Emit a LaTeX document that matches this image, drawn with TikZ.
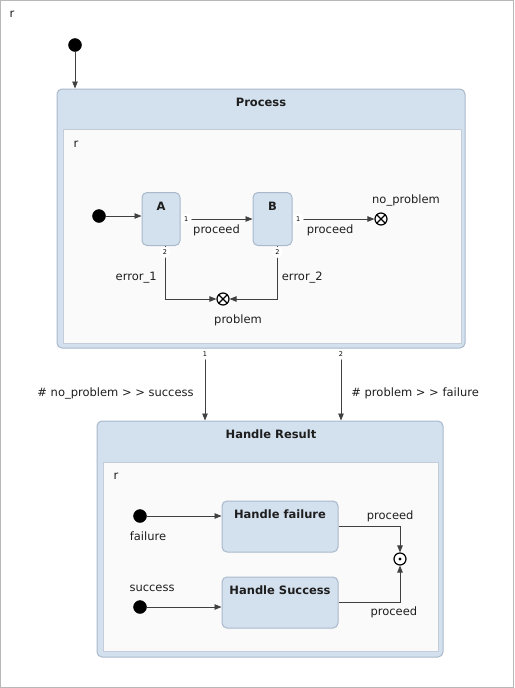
\documentclass[tikz,border=0pt]{standalone}
\usepackage{fontspec}
\setmainfont{DejaVu Sans}
\usetikzlibrary{arrows.meta}
\definecolor{statefill}{HTML}{D3E0EE}
\definecolor{stateline}{HTML}{A9B9CB}
\definecolor{regionfill}{HTML}{FAFAFA}
\definecolor{regionline}{HTML}{C3CCD8}
\definecolor{ink}{HTML}{1E1E1E}
\definecolor{frameline}{HTML}{B8B8B8}
\tikzset{
    state/.style={draw=stateline, fill=statefill, rounded corners=5pt, line width=1pt, inner sep=0pt},
    region/.style={draw=regionline, fill=regionfill, line width=1pt, inner sep=0pt},
    initial/.style={circle, fill=black, draw=black, minimum size=13pt, inner sep=0pt},
    exitpt/.style={circle, draw=black, fill=white, line width=1.2pt, minimum size=12pt, inner sep=0pt,
        path picture={\draw[black, line width=1.2pt] (path picture bounding box.north west) -- (path picture bounding box.south east)
            (path picture bounding box.north east) -- (path picture bounding box.south west);}},
    final/.style={circle, draw=black, fill=white, line width=1.2pt, minimum size=12pt, inner sep=0pt,
        path picture={\fill[black] (path picture bounding box.center) circle (1.7pt);}},
    trans/.style={draw=ink!85, line width=0.8pt, -{Triangle[length=7pt,width=5.5pt]}},
    prio/.style={circle, fill=white, inner sep=1.6pt, font=\fontsize{6.5}{6.5}\selectfont, text=black},
    lbl/.style={text=ink, font=\fontsize{11.5}{13}\selectfont, inner sep=0pt},
    title/.style={text=ink, font=\fontsize{11.5}{13}\selectfont\bfseries, inner sep=0pt},
}
\begin{document}
\begin{tikzpicture}[x=1pt, y=-1pt]
    \useasboundingbox (0,0) rectangle (514,688);
    \draw[frameline, fill=white] (0.5,0.5) rectangle (513.5,687.5);
    \node[lbl] (rtop) at (12,14) {r};
    \node[initial] (init0) at (75,45) {};
    % Process
    \node[state, minimum width=408pt, minimum height=259pt] (proc) at (261,218.5) {};
    \node[title] (proctitle) at (261,102) {Process};
    \node[region, minimum width=398pt, minimum height=214pt] (procreg) at (262,236) {};
    \node[lbl] (rproc) at (76,144) {r};
    \node[initial] (init1) at (99,216) {};
    \node[state, minimum width=38pt, minimum height=53pt] (A) at (161,219) {};
    \node[title] (Atitle) at (161,206) {A};
    \node[state, minimum width=39pt, minimum height=53pt] (B) at (272.5,219) {};
    \node[title] (Btitle) at (272.5,206) {B};
    \node[exitpt] (noprob) at (381,219) {};
    \node[lbl] (noproblbl) at (406,200) {no\_problem};
    \node[exitpt] (prob) at (223,299) {};
    \node[lbl] (problbl) at (238,320) {problem};
    \draw[trans] (init0) -- (init0 |- proc.north);
    \draw[trans] (init1) -- (init1 -| A.west);
    \draw[trans] (A.east) -- node[prio, pos=0.08] {1} node[lbl, midway, below=5pt] {proceed} (B.west);
    \draw[trans] (B.east) -- node[prio, pos=0.07] {1} node[lbl, pos=0.46, below=5pt] {proceed} (noprob.west);
    \draw[trans] ([xshift=4pt]A.south) |- node[prio, pos=0.06] {2} node[lbl, pos=0.3, left=8pt] {error\_1} (prob);
    \draw[trans] ([xshift=5pt]B.south) |- node[prio, pos=0.06] {2} node[lbl, pos=0.3, right=4pt] {error\_2} (prob);
    % Handle Result
    \node[state, minimum width=346pt, minimum height=236pt] (hr) at (270,539) {};
    \node[title] (hrtitle) at (271,434) {Handle Result};
    \node[region, minimum width=335pt, minimum height=189pt] (hrreg) at (270.5,556.5) {};
    \node[lbl] (rhr) at (116,476) {r};
    \node[initial] (initf) at (140,516) {};
    \node[lbl] (initflbl) at (148,536) {failure};
    \node[initial] (inits) at (140,607) {};
    \node[lbl] (initslbl) at (152,588) {success};
    \node[state, minimum width=116pt, minimum height=51pt] (hf) at (280,526.5) {};
    \node[title] (hftitle) at (280,514) {Handle failure};
    \node[state, minimum width=116pt, minimum height=51pt] (hs) at (280,602.5) {};
    \node[title] (hstitle) at (280,590) {Handle Success};
    \node[final] (fin) at (400,559) {};
    \draw[trans] (initf) -- (initf -| hf.west);
    \draw[trans] (inits) -- (inits -| hs.west);
    \draw[trans] (hf.east) -| node[lbl, pos=0.42, above=4.5pt] {proceed} (fin);
    \draw[trans] (hs.east) -| node[lbl, pos=0.45, below=4pt] {proceed} (fin);
    % between the two
    \draw[trans] ([xshift=-56pt]proc.south) -- node[prio, pos=0.08] {1} node[lbl, pos=0.62, left=11pt] {\# no\_problem > > success} ([xshift=-56pt]proc.south |- hr.north);
    \draw[trans] ([xshift=80pt]proc.south) -- node[prio, pos=0.08] {2} node[lbl, pos=0.62, right=10pt] {\# problem > > failure} ([xshift=80pt]proc.south |- hr.north);
\end{tikzpicture}
\end{document}
